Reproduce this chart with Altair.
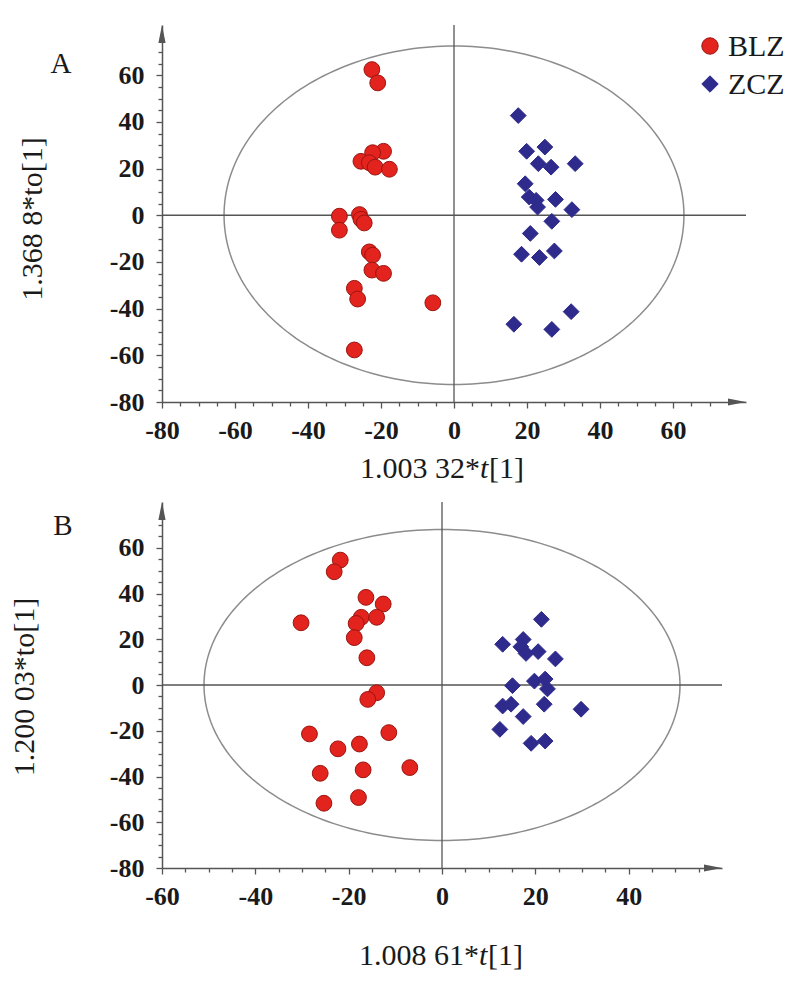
import altair as alt
import pandas as pd
import numpy as np

# ---------------- data ----------------
groups = ["BLZ", "ZCZ"]

a_blz_x = [-22.5, -20.9, -19.3, -22.3, -25.5, -23.2, -21.6, -17.7, -31.4, -31.4, -25.9,
           -25.5, -24.6, -23.2, -22.3, -22.5, -19.3, -27.3, -26.4, -27.3, -5.8]
a_blz_y = [62.4, 56.7, 27.4, 26.8, 23.1, 22.5, 20.6, 19.7, -0.4, -6.4, 0.3,
           -1.7, -3.3, -15.7, -17.1, -23.5, -24.9, -31.3, -35.9, -57.7, -37.5]
a_zcz_x = [17.6, 19.9, 24.9, 23.1, 26.6, 33.2, 19.5, 20.6, 22.5, 22.9, 27.8,
           32.3, 26.8, 20.9, 18.5, 23.4, 27.5, 32.1, 16.4, 26.8]
a_zcz_y = [42.7, 27.4, 29.2, 22.1, 20.6, 22.1, 13.5, 7.8, 6.4, 3.5, 6.8,
           2.4, -2.6, -7.8, -16.7, -18.1, -15.3, -41.3, -46.7, -48.9]

b_blz_x = [-21.8, -23.1, -16.3, -12.6, -30.2, -17.3, -14.0, -18.4, -18.8, -16.1, -14.0,
           -15.9, -28.4, -11.4, -22.3, -17.7, -26.1, -16.9, -25.3, -17.9, -6.9]
b_blz_y = [54.6, 49.5, 38.3, 35.4, 27.2, 29.6, 29.6, 26.9, 20.7, 11.9, -3.4,
           -6.3, -21.4, -20.8, -27.9, -25.8, -38.6, -37.1, -51.7, -49.2, -36.1]
b_zcz_x = [21.3, 13.0, 17.4, 16.9, 18.0, 20.6, 24.3, 15.1, 19.8, 22.1, 22.6,
           13.0, 14.8, 21.9, 29.8, 17.4, 12.4, 19.1, 22.1]
b_zcz_y = [28.7, 17.8, 19.9, 16.7, 13.8, 14.6, 11.4, -0.3, 1.7, 2.6, -1.7,
           -9.2, -8.4, -8.4, -10.6, -13.8, -19.4, -25.5, -24.5]

# ellipse radii (x, y) for each panel
a_ellipse = [63, 72.5]
b_ellipse = [51, 68]

a_xticks = list(range(-80, 75, 5))
a_yticks = list(range(-80, 75, 5))
b_xticks = list(range(-60, 60, 5))
b_yticks = list(range(-80, 75, 5))

a_xtitle = ["1.003 32*", "t", "[1]"]
a_ytitle = "1.368 8*to[1]"
b_xtitle = ["1.008 61*", "t", "[1]"]
b_ytitle = "1.200 03*to[1]"

# ---------------- styling ----------------
FONT = "Liberation Serif"
RED = "#e3231d"
RED_EDGE = "#9a1510"
BLUE = "#2e2b8c"
AXIS = "#555555"
TXT = "#1a1a1a"

cscale = alt.Scale(domain=groups, range=[RED, BLUE])
sscale = alt.Scale(domain=groups, range=["circle", "diamond"])
stscale = alt.Scale(domain=groups, range=[RED_EDGE, BLUE])

UP_ARROW = "M0,0L-0.4,2L0.4,2Z"
RIGHT_ARROW = "M0,0L-2,-0.4L-2,0.4Z"


def make_axis(values, orient):
    return alt.Axis(
        values=values, grid=False, title=None,
        domainColor=AXIS, domainWidth=1.5, tickColor=AXIS, tickWidth=1.3,
        tickSize={"condition": {"test": "datum.value % 20 === 0", "value": 6}, "value": 4},
        labelExpr="datum.value % 20 === 0 ? '' + datum.value : ''",
        labelFont=FONT, labelFontSize=26, labelFontWeight="bold", labelColor=TXT,
        labelPadding=12 if orient == "left" else 9,
        labelFlush=False, labelOverlap=False,
    )


def panel(letter, bx, by, zx, zy, xdom, ydom, w, h, xt, yt, ell, xtitle, ytitle,
          ytitle_pos, xtitle_pos, letter_pos, legend):
    df = pd.DataFrame({
        "x": bx + zx, "y": by + zy,
        "group": ["BLZ"] * len(bx) + ["ZCZ"] * len(zx),
    })
    X = lambda f: alt.X(f, scale=alt.Scale(domain=xdom, nice=False, zero=False), axis=make_axis(xt, "bottom"))
    Y = lambda f: alt.Y(f, scale=alt.Scale(domain=ydom, nice=False, zero=False), axis=make_axis(yt, "left"))

    t = np.linspace(0, 2 * np.pi, 241)
    edf = pd.DataFrame({"ex": ell[0] * np.cos(t), "ey": ell[1] * np.sin(t), "i": np.arange(len(t))})
    ellipse = alt.Chart(edf).mark_line(color="#8c8c8c", strokeWidth=1.5).encode(
        x=X("ex:Q"), y=Y("ey:Q"), order="i:Q")

    vrule = alt.Chart(pd.DataFrame({"x": [0]})).mark_rule(color=AXIS, strokeWidth=1.3).encode(x=X("x:Q"))
    hrule = alt.Chart(pd.DataFrame({"y": [0]})).mark_rule(color=AXIS, strokeWidth=1.3).encode(y=Y("y:Q"))

    uarrow = alt.Chart(pd.DataFrame({"x": [xdom[0]], "y": [ydom[1]]})).mark_point(
        shape=UP_ARROW, size=324, filled=True, opacity=1, color=AXIS, strokeWidth=0
    ).encode(x=X("x:Q"), y=Y("y:Q"))
    rarrow = alt.Chart(pd.DataFrame({"x": [xdom[1]], "y": [ydom[0]]})).mark_point(
        shape=RIGHT_ARROW, size=324, filled=True, opacity=1, color=AXIS, strokeWidth=0
    ).encode(x=X("x:Q"), y=Y("y:Q"))

    pts = alt.Chart(df).mark_point(filled=True, size=250, opacity=1, strokeWidth=1).encode(
        x=X("x:Q"), y=Y("y:Q"),
        color=alt.Color("group:N", scale=cscale, legend=None),
        shape=alt.Shape("group:N", scale=sscale, legend=None),
        stroke=alt.Stroke("group:N", scale=stscale, legend=None),
    )

    one = pd.DataFrame({"k": [0]})
    txt = []
    txt.append(alt.Chart(one).mark_text(text=letter, font=FONT, fontSize=29, color=TXT,
                                        align="center", baseline="middle").encode(
        x=alt.value(letter_pos[0]), y=alt.value(letter_pos[1])))
    txt.append(alt.Chart(one).mark_text(text=ytitle, font=FONT, fontSize=30, color=TXT, angle=270,
                                        align="center", baseline="middle").encode(
        x=alt.value(ytitle_pos[0]), y=alt.value(ytitle_pos[1])))
    cx, cy = xtitle_pos
    txt.append(alt.Chart(one).mark_text(text=xtitle[0], font=FONT, fontSize=30, color=TXT,
                                        align="right", baseline="middle").encode(
        x=alt.value(cx + 31), y=alt.value(cy)))
    txt.append(alt.Chart(one).mark_text(text=xtitle[1], font=FONT, fontSize=30, color=TXT, fontStyle="italic",
                                        align="left", baseline="middle").encode(
        x=alt.value(cx + 31), y=alt.value(cy)))
    txt.append(alt.Chart(one).mark_text(text=xtitle[2], font=FONT, fontSize=30, color=TXT,
                                        align="left", baseline="middle").encode(
        x=alt.value(cx + 40), y=alt.value(cy)))

    layers = [ellipse, vrule, hrule, uarrow, rarrow, pts] + txt

    if legend:
        for g, (lx, ly) in zip(groups, legend):
            ldf = pd.DataFrame({"group": [g]})
            layers.append(alt.Chart(ldf).mark_point(filled=True, size=270, opacity=1, strokeWidth=1).encode(
                x=alt.value(lx), y=alt.value(ly),
                color=alt.Color("group:N", scale=cscale, legend=None),
                shape=alt.Shape("group:N", scale=sscale, legend=None),
                stroke=alt.Stroke("group:N", scale=stscale, legend=None)))
            layers.append(alt.Chart(ldf).mark_text(font=FONT, fontSize=30, color=TXT,
                                                   align="left", baseline="middle").encode(
                x=alt.value(lx + 18), y=alt.value(ly + 1), text="group:N"))

    return alt.layer(*layers).properties(width=w, height=h)


chart_a = panel("A", a_blz_x, a_blz_y, a_zcz_x, a_zcz_y, [-80, 80], [-80, 81.5], 584, 377,
                a_xticks, a_yticks, a_ellipse, a_xtitle, a_ytitle,
                ytitle_pos=(-129, 194), xtitle_pos=(287, 444), letter_pos=(-101, 39),
                legend=[(548, 21), (548, 59)])
chart_b = panel("B", b_blz_x, b_blz_y, b_zcz_x, b_zcz_y, [-60, 60], [-80, 80], 560, 366,
                b_xticks, b_yticks, b_ellipse, b_xtitle, b_ytitle,
                ytitle_pos=(-137, 185), xtitle_pos=(286, 454), letter_pos=(-99, 24),
                legend=None)

chart = alt.vconcat(chart_a, chart_b, spacing=17).resolve_scale(
    x="independent", y="independent"
).properties(
    padding={"left": 2, "top": 16, "right": 5, "bottom": 5}
).configure_view(stroke=None)

chart.save("out.html", embed_options={"renderer": "svg", "actions": False})
